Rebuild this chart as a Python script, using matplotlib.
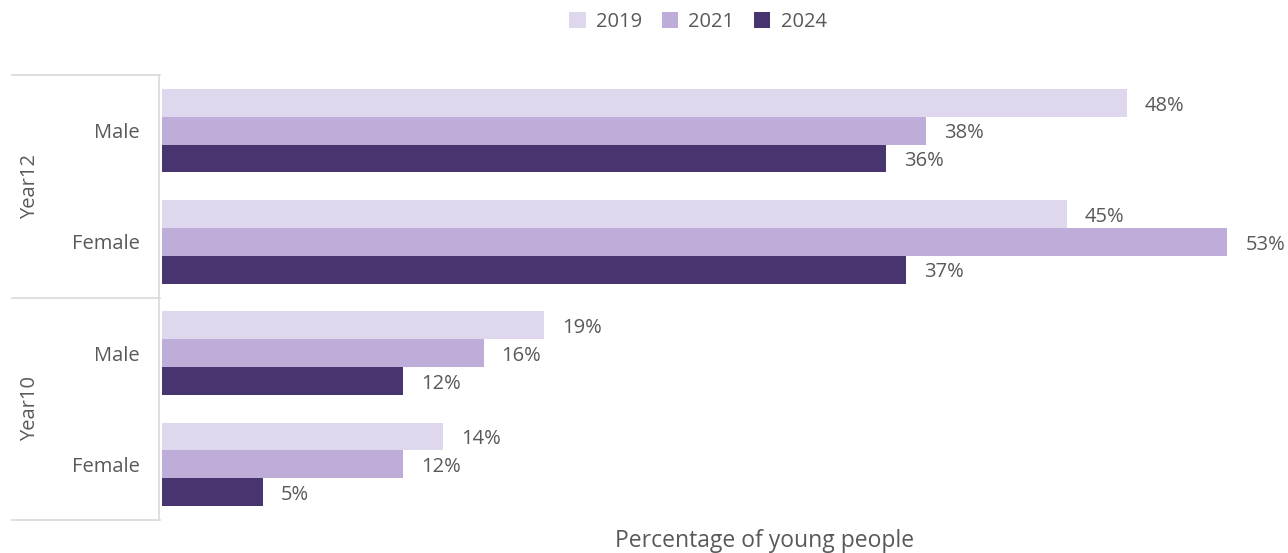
import numpy as np
import matplotlib.pyplot as plt
from matplotlib.transforms import blended_transform_factory

# data
categories = ["Male", "Female", "Male", "Female"]
groups = ["Year12", "Year10"]
years = ["2019", "2021", "2024"]
vals_2019 = [48, 45, 19, 14]
vals_2021 = [38, 53, 16, 12]
vals_2024 = [36, 37, 12, 5]
colors = ["#DFD7EE", "#BEADD9", "#48346E"]
txt = "#595959"

plt.rcParams['font.family'] = ['Open Sans', 'DejaVu Sans']

fig = plt.figure(figsize=(12.88, 5.53), dpi=100)
ax = fig.add_axes([162/1288, 1-520/553, 1-162/1288, 445/553])

y = np.arange(len(categories))
h = 0.25
series = [vals_2019, vals_2021, vals_2024]
for k, (vals, c, yr) in enumerate(zip(series, colors, years)):
    pos = y - h + k*h
    ax.barh(pos, vals, height=h, color=c, label=yr)
    for p, v in zip(pos, vals):
        ax.annotate(f"{v}%", (v, p), xytext=(13, -2), textcoords="offset points",
                    ha="left", va="center", fontsize=14.5, color=txt)

ax.set_xlim(0, 1126/20.1)
ax.set_ylim(3.5, -0.5)
for s in ["top", "right", "bottom"]:
    ax.spines[s].set_visible(False)
ax.spines["left"].set_color("#D9D9D9")
ax.spines["left"].set_linewidth(1.2)
ax.spines["left"].set_position(("outward", 2))
ax.set_xticks([])
ax.set_yticks(y)
ax.set_yticklabels(categories, fontsize=14.5, color=txt)
ax.tick_params(axis="y", length=0, pad=14)

# group separators and labels
tr = blended_transform_factory(fig.transFigure, ax.transData)
for yy in [-0.5, 1.5, 3.5]:
    ax.plot([12/1288, 160/1288], [yy, yy], transform=tr, color="#D9D9D9",
            lw=1.2, clip_on=False)
for gi, g in enumerate(groups):
    ax.text(30/1288, 0.5 + 2*gi, g, transform=tr, rotation=90, ha="center",
            va="center", fontsize=14.5, color=txt)

fig.text(765/1288, 1-541/553, "Percentage of young people", ha="center",
         va="center", fontsize=16.5, color=txt)

fig.legend(loc="center", bbox_to_anchor=(698/1288, 1-22/553), ncol=3,
           frameon=False, handlelength=0.8, handleheight=0.8,
           handletextpad=0.5, columnspacing=1.0, fontsize=14.5, labelcolor=txt)

fig.savefig("out.png", dpi=100)
